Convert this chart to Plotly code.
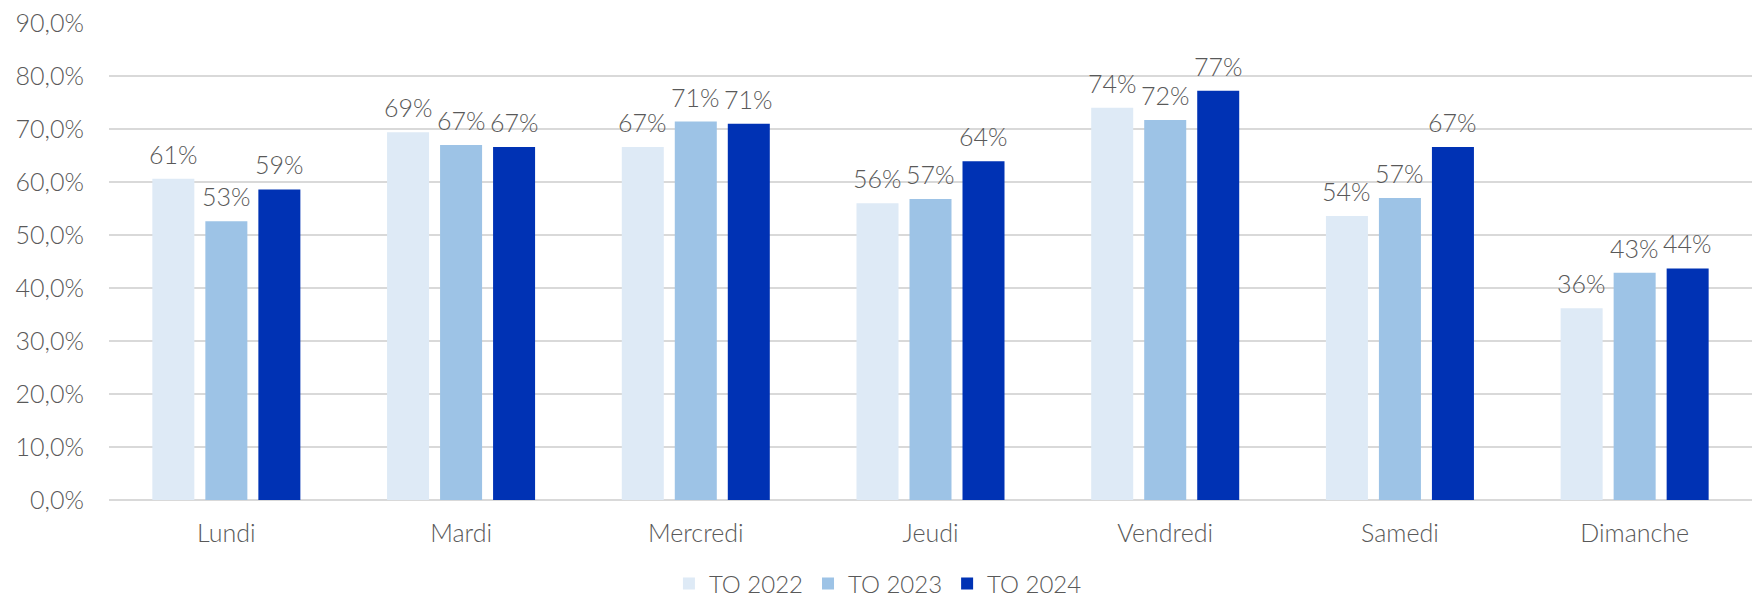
import plotly.graph_objects as go

# Taux d'occupation par jour de la semaine
jours = ["Lundi", "Mardi", "Mercredi", "Jeudi", "Vendredi", "Samedi", "Dimanche"]
series = ["TO 2022", "TO 2023", "TO 2024"]
to_2022 = [60.6, 69.4, 66.6, 56.0, 74.0, 53.6, 36.2]
to_2023 = [52.6, 67.0, 71.4, 56.8, 71.7, 57.0, 42.9]
to_2024 = [58.6, 66.6, 71.0, 63.9, 77.2, 66.6, 43.7]
y_ticks = [0, 10, 20, 30, 40, 50, 60, 70, 80, 90]
y_tick_labels = ["0,0%", "10,0%", "20,0%", "30,0%", "40,0%", "50,0%",
                 "60,0%", "70,0%", "80,0%", "90,0%"]

colors = ["#DEEAF6", "#9DC3E6", "#0032B4"]
values = [to_2022, to_2023, to_2024]

FONT = "Lato"
GREY = "#595959"
FS = 25

fig = go.Figure()
for name, vals, col in zip(series, values, colors):
    fig.add_trace(go.Bar(
        name=name, x=jours, y=vals, marker=dict(color=col, line=dict(width=0)),
        hoverinfo="skip",
    ))

# Value labels above each bar
slot_px = 53
annotations = []
for i, vals in enumerate(values):
    for j, v in enumerate(vals):
        annotations.append(dict(
            x=jours[j], y=v, xref="x", yref="y",
            text=f"{int(v + 0.5):d}%", showarrow=False,
            xanchor="center", yanchor="bottom",
            xshift=(i - 1) * slot_px, yshift=8,
            font=dict(family=FONT, size=FS, color=GREY, weight=300),
        ))

fig.update_layout(
    width=1757, height=601,
    margin=dict(l=109, r=5, t=23, b=101, autoexpand=False),
    paper_bgcolor="white", plot_bgcolor="white",
    barmode="group", bargap=0.3225, bargroupgap=0.2075,
    font=dict(family=FONT, size=FS, color=GREY, weight=300),
    showlegend=True,
    legend=dict(
        orientation="h", x=0.468, xanchor="center", y=-0.176, yanchor="middle",
        font=dict(family=FONT, size=24, color=GREY, weight=300),
        itemwidth=30, traceorder="normal", tracegroupgap=0,
    ),
    annotations=annotations,
    xaxis=dict(
        showgrid=False, showline=False, zeroline=False,
        ticks="", ticklabelstandoff=16,
        tickfont=dict(family=FONT, size=FS, color=GREY, weight=300),
    ),
    yaxis=dict(
        range=[0, 90], tickvals=y_ticks, ticktext=y_tick_labels,
        showgrid=True, gridcolor="#D9D9D9", gridwidth=2,
        zeroline=True, zerolinecolor="#D9D9D9", zerolinewidth=2,
        showline=False, ticks="", ticklabelstandoff=24,
        tickfont=dict(family=FONT, size=FS, color=GREY, weight=300),
    ),
)

fig.write_html("out.html")
